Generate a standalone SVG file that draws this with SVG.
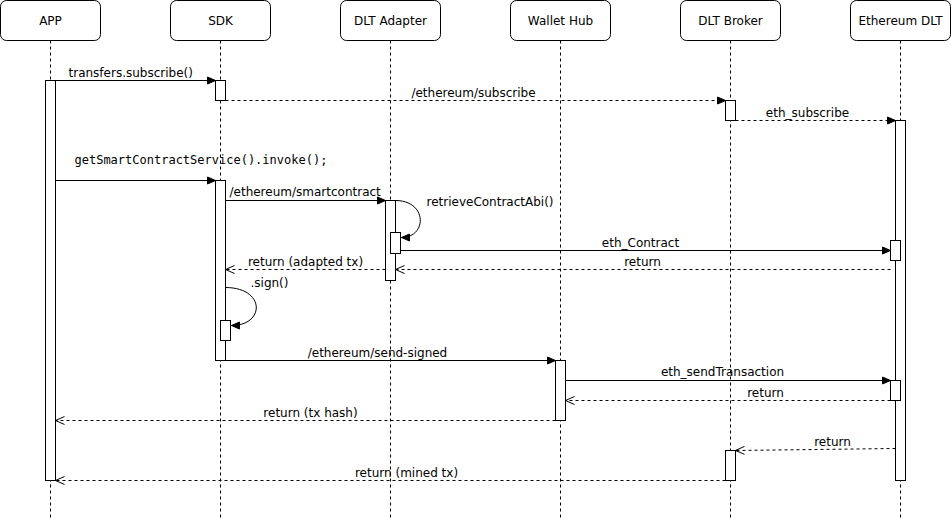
<svg xmlns="http://www.w3.org/2000/svg" width="951" height="521" viewBox="0 0 951 521">
<style>
.hdr{fill:#fff;stroke:#000;stroke-width:1}
.life{stroke:#000;stroke-width:1;stroke-dasharray:3 3;fill:none}
.act{fill:#fff;stroke:#000;stroke-width:1}
.msg{stroke:#000;stroke-width:1;fill:none}
.ret{stroke:#000;stroke-width:1;fill:none;stroke-dasharray:3 3}
.ht{font-family:"DejaVu Sans",sans-serif;font-size:12px;fill:#000;text-anchor:middle}
.lt{font-family:"DejaVu Sans",sans-serif;font-size:12px;fill:#000}
.mono{font-family:"DejaVu Sans Mono",monospace;font-size:12px;fill:#000}
.c{text-anchor:middle}
</style>
<defs>
<marker id="fill" markerUnits="userSpaceOnUse" markerWidth="10" markerHeight="10" refX="8" refY="3.5" orient="auto" overflow="visible">
<path d="M0,0 L8,3.5 L0,7 z" fill="#000" stroke="#000" stroke-width="1"/>
</marker>
<marker id="open" markerUnits="userSpaceOnUse" markerWidth="10" markerHeight="10" refX="9" refY="4" orient="auto" overflow="visible">
<path d="M0,0 L9,4 L0,8" fill="none" stroke="#000" stroke-width="1"/>
</marker>
</defs>
<g transform="translate(0.5,0.5)">
<g id="app">
<rect class="hdr" x="0" y="0" width="100" height="40" rx="6"/>
<text class="ht" x="50" y="24">APP</text>
<line class="life" x1="50" y1="40" x2="50" y2="520"/>
<rect class="act" x="45" y="80" width="10" height="400"/>
</g>
<g id="sdk">
<rect class="hdr" x="170" y="0" width="100" height="40" rx="6"/>
<text class="ht" x="220" y="24">SDK</text>
<line class="life" x1="220" y1="40" x2="220" y2="520"/>
<rect class="act" x="215" y="80" width="10" height="20"/>
<rect class="act" x="215" y="180" width="10" height="180"/>
<rect class="act" x="220" y="320" width="10" height="20"/>
</g>
<g id="dlt-adapter">
<rect class="hdr" x="340" y="0" width="100" height="40" rx="6"/>
<text class="ht" x="390" y="24">DLT Adapter</text>
<line class="life" x1="390" y1="40" x2="390" y2="520"/>
<rect class="act" x="385" y="200" width="10" height="80"/>
<rect class="act" x="390" y="232" width="10" height="21"/>
</g>
<g id="wallet-hub">
<rect class="hdr" x="510" y="0" width="100" height="40" rx="6"/>
<text class="ht" x="560" y="24">Wallet Hub</text>
<line class="life" x1="560" y1="40" x2="560" y2="520"/>
<rect class="act" x="555" y="360" width="10" height="60"/>
</g>
<g id="dlt-broker">
<rect class="hdr" x="680" y="0" width="100" height="40" rx="6"/>
<text class="ht" x="730" y="24">DLT Broker</text>
<line class="life" x1="730" y1="40" x2="730" y2="520"/>
<rect class="act" x="725" y="100" width="10" height="20"/>
<rect class="act" x="725" y="450" width="10" height="30"/>
</g>
<g id="ethereum-dlt">
<rect class="hdr" x="850" y="0" width="100" height="40" rx="6"/>
<text class="ht" x="900" y="24">Ethereum DLT</text>
<line class="life" x1="900" y1="40" x2="900" y2="520"/>
<rect class="act" x="895" y="120" width="10" height="360"/>
<rect class="act" x="890" y="240" width="10" height="20"/>
<rect class="act" x="890" y="380" width="10" height="20"/>
</g>
<g id="connectors">
<line class="msg" x1="55" y1="80" x2="215" y2="80" marker-end="url(#fill)"/>
<text class="lt" x="68" y="76">transfers.subscribe()</text>
<line class="ret" x1="225" y1="100" x2="725" y2="100" marker-end="url(#fill)"/>
<text class="lt c" x="473" y="96">/ethereum/subscribe</text>
<line class="ret" x1="735" y1="120" x2="895" y2="120" marker-end="url(#fill)"/>
<text class="lt c" x="807" y="116">eth_subscribe</text>
<line class="msg" x1="55" y1="180" x2="215" y2="180" marker-end="url(#fill)"/>
<text class="mono" x="74" y="163">getSmartContractService().invoke();</text>
<line class="msg" x1="225" y1="200" x2="385" y2="200" marker-end="url(#fill)"/>
<text class="lt" x="229" y="195">/ethereum/smartcontract</text>
<path class="msg" d="M395,200 C427,200 427,237 401,237" marker-end="url(#fill)"/>
<text class="lt" x="426" y="205">retrieveContractAbi()</text>
<line class="msg" x1="400" y1="250" x2="890" y2="250" marker-end="url(#fill)"/>
<text class="lt c" x="640" y="246">eth_Contract</text>
<line class="ret" x1="890" y1="269" x2="395" y2="269" marker-end="url(#open)"/>
<text class="lt c" x="642" y="265">return</text>
<line class="ret" x1="385" y1="269" x2="225" y2="269" marker-end="url(#open)"/>
<text class="lt c" x="305" y="265">return (adapted tx)</text>
<path class="msg" d="M225,287 C265,287 265,325 231,325" marker-end="url(#fill)"/>
<text class="lt" x="250" y="286">.sign()</text>
<line class="msg" x1="225" y1="360" x2="555" y2="360" marker-end="url(#fill)"/>
<text class="lt c" x="377" y="356">/ethereum/send-signed</text>
<line class="msg" x1="565" y1="380" x2="890" y2="380" marker-end="url(#fill)"/>
<text class="lt c" x="722" y="375">eth_sendTransaction</text>
<line class="ret" x1="890" y1="400" x2="565" y2="400" marker-end="url(#open)"/>
<text class="lt c" x="765" y="396">return</text>
<line class="ret" x1="555" y1="420" x2="55" y2="420" marker-end="url(#open)"/>
<text class="lt c" x="310" y="416">return (tx hash)</text>
<line class="ret" x1="895" y1="448" x2="735" y2="450" marker-end="url(#open)"/>
<text class="lt c" x="832" y="445">return</text>
<line class="ret" x1="725" y1="480" x2="55" y2="480" marker-end="url(#open)"/>
<text class="lt c" x="406" y="476">return (mined tx)</text>
</g>
</g>
</svg>
